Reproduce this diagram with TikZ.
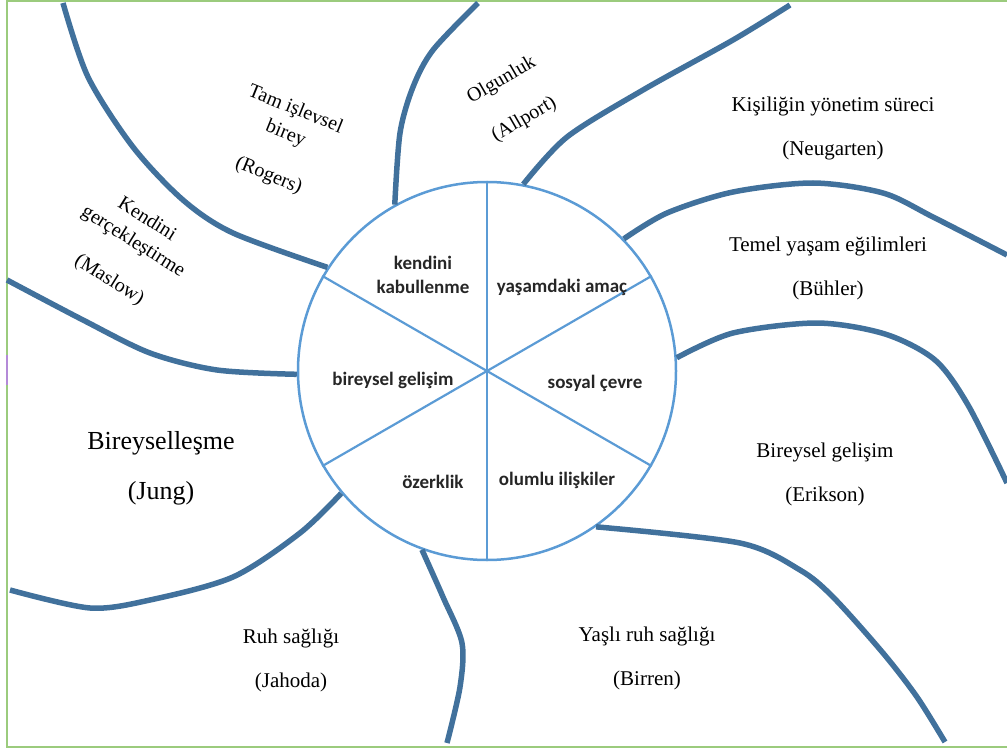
\documentclass[tikz,border=0pt]{standalone}
\usepackage{fontspec}
\setmainfont{Liberation Serif}
\newfontfamily\wheelfont{Carlito}
\usepackage{tikz}
\usetikzlibrary{positioning,calc}
\definecolor{ribblue}{HTML}{41719C}
\definecolor{wheelblue}{HTML}{5B9BD5}
\definecolor{framegreen}{HTML}{9BCB7D}
\definecolor{framepurple}{HTML}{B48AD8}

\begin{document}
\begin{tikzpicture}[
  x=1pt, y=-1pt,
  rib/.style={draw=ribblue, line width=5.5pt},
  spoke/.style={draw=wheelblue, line width=2.2pt},
  seg/.style={font=\wheelfont\bfseries\fontsize{19}{24}\selectfont, text=black!85, align=center, inner sep=0pt},
  lbl/.style={font=\fontsize{21}{44}\selectfont, align=center, inner sep=0pt},
  slant/.style={font=\fontsize{20}{26}\selectfont, align=center, inner sep=0pt}
]
\useasboundingbox (0,0) rectangle (1007,749);
\draw[framegreen, line width=2pt] (1007,1) -- (7,1) -- (7,747) -- (1007,747);
\draw[framepurple, line width=2pt] (7,355) -- (7,385);

\node[circle, draw=wheelblue, line width=2.5pt, minimum size=378pt, inner sep=0pt] (wheel) at (487,371) {};
\foreach \a/\b in {30/210, 90/270, 150/330}
  \draw[spoke] (wheel.\a) -- (wheel.\b);

\node[seg] (kab) at (423,275) {kendini\\kabullenme};
\node[seg] (amac) at (562,287) {yaşamdaki amaç};
\node[seg] (bir) at (393,380) {bireysel gelişim};
\node[seg] (sos) at (595,383) {sosyal çevre};
\node[seg] (oze) at (433,482) {özerklik};
\node[seg] (olu) at (557,480) {olumlu ilişkiler};

\draw[rib] plot[smooth] coordinates {(63,3) (88,77) (133,147) (183,200) (233,233) (wheel.147)};
\draw[rib] plot[smooth] coordinates {(478,3) (433,50) (413,87) (400,133) (wheel.119)};
\draw[rib] plot[smooth] coordinates {(790,5) (733,40) (643,90) (567,137) (wheel.79)};
\draw[rib] plot[smooth] coordinates {(wheel.44) (667,213) (733,192) (813,183) (883,193) (933,217) (1007,255)};
\draw[rib] plot[smooth] coordinates {(wheel.4) (733,333) (817,323) (885,334) (935,360) (968,405) (1007,483)};
\draw[rib] plot[smooth] coordinates {(wheel.-55) (740,543) (800,570) (833,597) (883,653) (917,697) (945,742)};
\draw[rib] plot[smooth] coordinates {(wheel.250) (443,597) (462,643) (460,687) (447,743)};
\draw[rib] plot[smooth] coordinates {(wheel.220) (300,533) (233,577) (150,600) (90,608) (10,590)};
\draw[rib] plot[smooth] coordinates {(wheel.181) (217,370) (150,353) (83,320) (7,280)};

\node[slant, rotate=-22] (rogers) at (282,143) {Tam işlevsel\\birey\\[19pt](Rogers)};
\node[slant, rotate=30] (allport) at (513,100) {Olgunluk\\[19pt](Allport)};
\node[slant, rotate=-32] (maslow) at (128,250) {Kendini\\gerçekleştirme\\[19pt](Maslow)};
\node[lbl] (neug) at (833,128) {Kişiliğin yönetim süreci\\(Neugarten)};
\node[lbl] (buhler) at (828,268) {Temel yaşam eğilimleri\\(Bühler)};
\node[lbl] (erikson) at (825,474) {Bireysel gelişim\\(Erikson)};
\node[lbl] (birren) at (647,658) {Yaşlı ruh sağlığı\\(Birren)};
\node[lbl] (jahoda) at (291,660) {Ruh sağlığı\\(Jahoda)};
\node[lbl, font=\fontsize{26}{50}\selectfont] (jung) at (161,468) {Bireyselleşme\\(Jung)};
\end{tikzpicture}
\end{document}
